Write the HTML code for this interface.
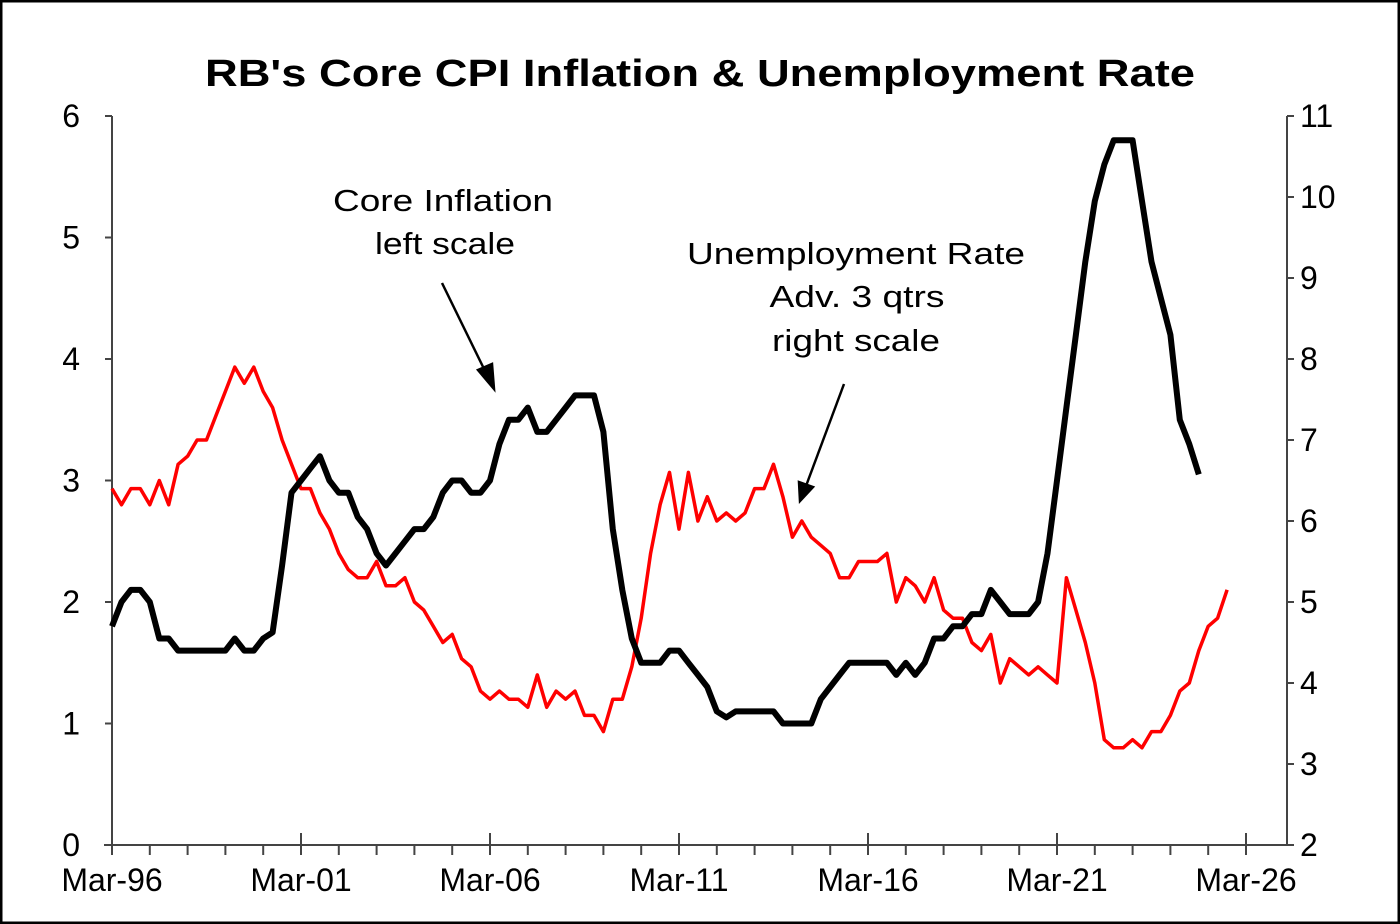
<!DOCTYPE html>
<html><head><meta charset="utf-8"><style>
html,body{margin:0;padding:0;background:#fff;}
svg{display:block;font-family:"Liberation Sans",Arial,sans-serif;}
</style></head><body>
<svg id="s" width="1400" height="924" viewBox="0 0 1400 924" xmlns="http://www.w3.org/2000/svg">
<rect x="1" y="1" width="1398" height="922" fill="#fff" stroke="#000" stroke-width="3"/>
<text x="700" y="86" text-anchor="middle" font-size="38" font-weight="bold" textLength="990" lengthAdjust="spacingAndGlyphs">RB's Core CPI Inflation &amp; Unemployment Rate</text>
<g id="ax" stroke="#444" stroke-width="2" fill="none"></g>
<g id="lab" font-size="32" fill="#000"></g>
<polyline id="red" fill="none" stroke="#ff0000" stroke-width="3.5" stroke-linejoin="round"/>
<polyline id="blk" fill="none" stroke="#000" stroke-width="6" stroke-linejoin="round"/>
<g font-size="31" text-anchor="middle">
<text x="443" y="211" textLength="220" lengthAdjust="spacingAndGlyphs">Core Inflation</text>
<text x="445" y="254" textLength="140" lengthAdjust="spacingAndGlyphs">left scale</text>
<text x="856" y="264" textLength="338" lengthAdjust="spacingAndGlyphs">Unemployment Rate</text>
<text x="857" y="307" textLength="175" lengthAdjust="spacingAndGlyphs">Adv. 3 qtrs</text>
<text x="856" y="351" textLength="168" lengthAdjust="spacingAndGlyphs">right scale</text>
</g>
<g stroke="#000" stroke-width="2.5" fill="#000">
<line x1="442" y1="283" x2="487" y2="375"/>
<polygon points="494,389 478,370 492,364"/>
<line x1="844" y1="384" x2="806" y2="486"/>
<polygon points="800,501 799,482 813,487"/>
</g>
</svg>
<script>
var X0=112,DX=9.45,Y0=845,UL=121.5,UR=81;
function x(t){return X0+t*DX}
var ax=document.getElementById('ax'),lab=document.getElementById('lab');
function el(p,tag,a,txt){var e=document.createElementNS('http://www.w3.org/2000/svg',tag);for(var k in a)e.setAttribute(k,a[k]);if(txt!==undefined)e.textContent=txt;p.appendChild(e);return e}
el(ax,'line',{x1:X0,y1:116,x2:X0,y2:Y0});
el(ax,'line',{x1:1287,y1:116,x2:1287,y2:Y0});
el(ax,'line',{x1:X0-8,y1:Y0,x2:1287,y2:Y0});
for(var i=0;i<=6;i++){var y=Y0-i*UL;el(ax,'line',{x1:X0-7,y1:y,x2:X0,y2:y});el(lab,'text',{x:80,y:y+11,'text-anchor':'end'},i)}
for(var i=2;i<=11;i++){var y=Y0-(i-2)*UR;el(ax,'line',{x1:1287,y1:y,x2:1294,y2:y});el(lab,'text',{x:1300,y:y+11},i)}
for(var yr=0;yr<=30;yr++){var xx=x(yr*4),big=yr%5==0;el(ax,'line',{x1:xx,y1:big?Y0-12:Y0,x2:xx,y2:Y0+10});
 if(big){var n=(96+yr)%100;el(lab,'text',{x:xx,y:Y0+46,'text-anchor':'middle'},'Mar-'+(n<10?'0'+n:n))}}
var b=[1.8,2.0,2.1,2.1,2.0,1.7,1.7,1.6,1.6,1.6,1.6,1.6,1.6,1.7,1.6,1.6,1.7,1.75,2.3,2.9,3.0,3.1,3.2,3.0,2.9,2.9,2.7,2.6,2.4,2.3,2.4,2.5,2.6,2.6,2.7,2.9,3.0,3.0,2.9,2.9,3.0,3.3,3.5,3.5,3.6,3.4,3.4,3.5,3.6,3.7,3.7,3.7,3.4,2.6,2.1,1.7,1.5,1.5,1.5,1.6,1.6,1.5,1.4,1.3,1.1,1.05,1.1,1.1,1.1,1.1,1.1,1.0,1.0,1.0,1.0,1.2,1.3,1.4,1.5,1.5,1.5,1.5,1.5,1.4,1.5,1.4,1.5,1.7,1.7,1.8,1.8,1.9,1.9,2.1,2.0,1.9,1.9,1.9,2.0,2.4,3.0,3.6,4.2,4.8,5.3,5.6,5.8,5.8,5.8,5.3,4.8,4.5,4.2,3.5,3.3,3.05];
var r=[6.4,6.2,6.4,6.4,6.2,6.5,6.2,6.7,6.8,7.0,7.0,7.3,7.6,7.9,7.7,7.9,7.6,7.4,7.0,6.7,6.4,6.4,6.1,5.9,5.6,5.4,5.3,5.3,5.5,5.2,5.2,5.3,5.0,4.9,4.7,4.5,4.6,4.3,4.2,3.9,3.8,3.9,3.8,3.8,3.7,4.1,3.7,3.9,3.8,3.9,3.6,3.6,3.4,3.8,3.8,4.2,4.8,5.6,6.2,6.6,5.9,6.6,6.0,6.3,6.0,6.1,6.0,6.1,6.4,6.4,6.7,6.3,5.8,6.0,5.8,5.7,5.6,5.3,5.3,5.5,5.5,5.5,5.6,5.0,5.3,5.2,5.0,5.3,4.9,4.8,4.8,4.5,4.4,4.6,4.0,4.3,4.2,4.1,4.2,4.1,4.0,5.3,4.9,4.5,4.0,3.3,3.2,3.2,3.3,3.2,3.4,3.4,3.6,3.9,4.0,4.4,4.7,4.8,5.15];
document.getElementById('blk').setAttribute('points',b.map(function(v,i){return x(i).toFixed(1)+','+(Y0-v*UL).toFixed(1)}).join(' '));
document.getElementById('red').setAttribute('points',r.map(function(v,i){return x(i).toFixed(1)+','+(Y0-(v-2)*UR).toFixed(1)}).join(' '));
</script>
</body></html>
